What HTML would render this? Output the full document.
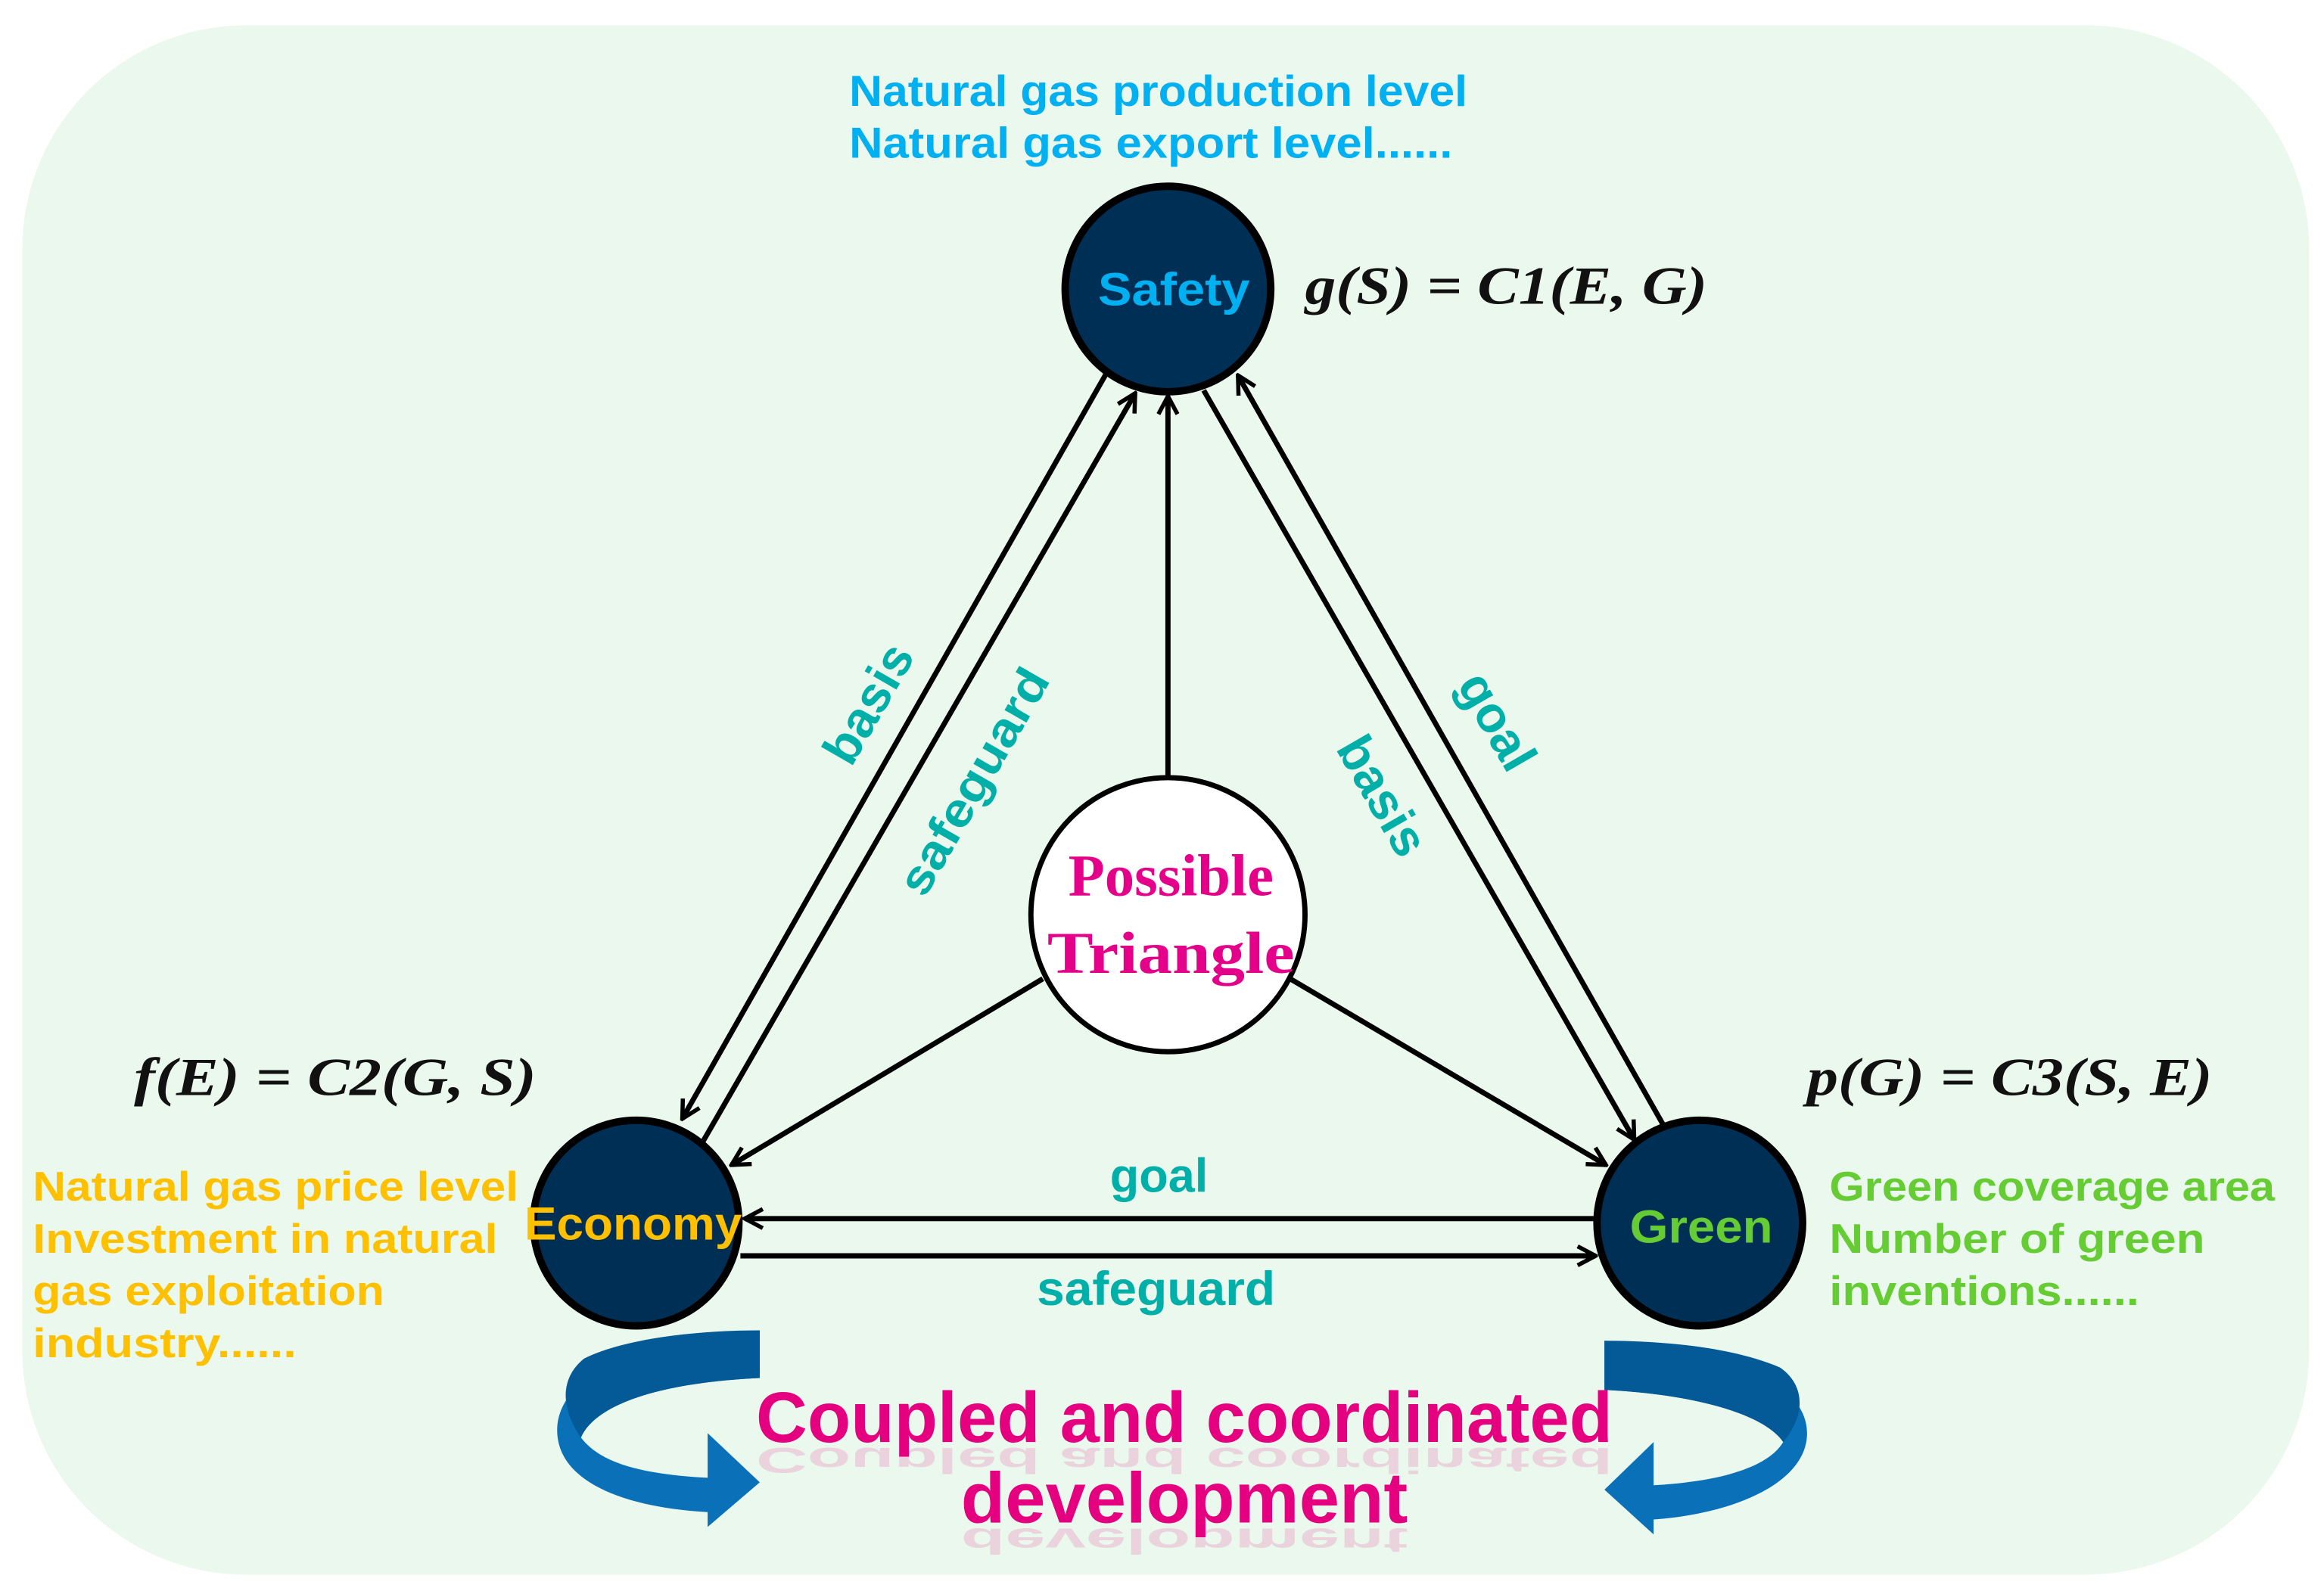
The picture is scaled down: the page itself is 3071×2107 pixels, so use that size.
<!DOCTYPE html>
<html><head><meta charset="utf-8"><style>
html,body{margin:0;padding:0;background:#fff;}
svg{display:block;}
</style></head><body>
<svg width="3071" height="2107" viewBox="0 0 1560 1070" preserveAspectRatio="none" xmlns="http://www.w3.org/2000/svg">
<defs>
<marker id="ah" viewBox="0 0 20 20" refX="18" refY="10" markerWidth="16" markerHeight="16" markerUnits="userSpaceOnUse" orient="auto">
<path d="M3,2 L18,10 L3,18" fill="none" stroke="#000" stroke-width="3.5"/>
</marker>
</defs>
<rect x="15" y="17" width="1535" height="1040" rx="150" ry="150" fill="#ebf8ed"/>

<g font-family="Liberation Sans, sans-serif" font-weight="bold">
<text x="570" y="71" font-size="29" fill="#00b0f0" textLength="415" lengthAdjust="spacingAndGlyphs">Natural gas production level</text>
<text x="570" y="106" font-size="29" fill="#00b0f0" textLength="405" lengthAdjust="spacingAndGlyphs">Natural gas export level......</text>

<text x="22" y="806" font-size="28" fill="#ffc000" textLength="326" lengthAdjust="spacingAndGlyphs">Natural gas price level</text>
<text x="22" y="841" font-size="28" fill="#ffc000" textLength="312" lengthAdjust="spacingAndGlyphs">Investment in natural</text>
<text x="22" y="876" font-size="28" fill="#ffc000" textLength="236" lengthAdjust="spacingAndGlyphs">gas exploitation</text>
<text x="22" y="911" font-size="28" fill="#ffc000" textLength="177" lengthAdjust="spacingAndGlyphs">industry......</text>

<text x="1228" y="806" font-size="28" fill="#66cc33" textLength="299" lengthAdjust="spacingAndGlyphs">Green coverage area</text>
<text x="1228" y="841" font-size="28" fill="#66cc33" textLength="252" lengthAdjust="spacingAndGlyphs">Number of green</text>
<text x="1228" y="876" font-size="28" fill="#66cc33" textLength="208" lengthAdjust="spacingAndGlyphs">inventions......</text>
</g>

<g font-family="Liberation Serif, serif" font-weight="bold" font-style="italic" font-size="36" fill="#111">
<text x="876" y="204" textLength="270" lengthAdjust="spacingAndGlyphs">g(S) = C1(E, G)</text>
<text x="90" y="735" textLength="270" lengthAdjust="spacingAndGlyphs">f(E) = C2(G, S)</text>
<text x="1213" y="735" textLength="272" lengthAdjust="spacingAndGlyphs">p(G) = C3(S, E)</text>
</g>

<g stroke="#000" stroke-width="3.5" fill="none" marker-end="url(#ah)">
<line x1="743" y1="250" x2="458" y2="751"/>
<line x1="472" y1="766" x2="762" y2="264"/>
<line x1="808" y1="262" x2="1097" y2="765"/>
<line x1="1117" y1="756" x2="831" y2="252"/>
<line x1="784" y1="522" x2="784" y2="266"/>
<line x1="700" y1="657" x2="491" y2="782"/>
<line x1="866" y1="657" x2="1078" y2="782"/>
<line x1="1073" y1="818" x2="500" y2="818"/>
<line x1="497" y1="843" x2="1071" y2="843"/>
</g>

<g stroke="#000" stroke-width="5">
<circle cx="784" cy="194" r="69" fill="#002f55"/>
<circle cx="427" cy="821" r="69" fill="#002f55"/>
<circle cx="1141" cy="821" r="69" fill="#002f55"/>
</g>
<circle cx="784" cy="614" r="92" fill="#fff" stroke="#000" stroke-width="3.5"/>

<g font-family="Liberation Sans, sans-serif" font-weight="bold" text-anchor="middle">
<text x="788" y="205" font-size="31" fill="#00b0f0" textLength="102" lengthAdjust="spacingAndGlyphs">Safety</text>
<text x="425" y="832" font-size="31" fill="#ffc000" textLength="146" lengthAdjust="spacingAndGlyphs">Economy</text>
<text x="1142" y="834" font-size="31" fill="#66cc33" textLength="96" lengthAdjust="spacingAndGlyphs">Green</text>
<text x="778" y="800" font-size="32" fill="#00b0a8">goal</text>
<text x="776" y="876" font-size="32" fill="#00b0a8" textLength="160" lengthAdjust="spacingAndGlyphs">safeguard</text>
<text transform="translate(593,478) rotate(-60)" font-size="34" fill="#00b0a8">basis</text>
<text transform="translate(663,530) rotate(-60)" font-size="32" fill="#00b0a8" textLength="170" lengthAdjust="spacingAndGlyphs">safeguard</text>
<text transform="translate(995,490) rotate(60)" font-size="34" fill="#00b0a8">goal</text>
<text transform="translate(918,540) rotate(60)" font-size="34" fill="#00b0a8">basis</text>
</g>
<g font-family="Liberation Serif, serif" font-weight="bold" text-anchor="middle" fill="#e5008a">
<text x="786" y="601" font-size="40">Possible</text>
<text x="786" y="653" font-size="40" textLength="166" lengthAdjust="spacingAndGlyphs">Triangle</text>
</g>

<!-- curved arrows -->
<path d="M510,893 L510,925 C445,928 400,942 390,965 C405,985 440,990 475,992 L475,962 L510,995 L475,1025 L475,1015 C420,1012 374,995 374,960 C374,920 440,895 510,893 Z" fill="#0a70b8"/>
<path d="M510,893 L510,925 C445,928 400,942 390,965 C376,945 376,925 392,912 C420,898 470,893 510,893 Z" fill="#045a96"/>
<path d="M1077,900 L1077,933 C1140,936 1185,950 1197,968 C1185,988 1145,995 1110,997 L1110,968 L1077,1000 L1110,1030 L1110,1020 C1165,1016 1213,995 1213,962 C1213,925 1150,903 1077,900 Z" fill="#0a70b8"/>
<path d="M1077,900 L1077,933 C1140,936 1185,950 1197,968 C1212,950 1212,930 1195,918 C1165,905 1120,900 1077,900 Z" fill="#045a96"/>

<g font-family="Liberation Sans, sans-serif" font-weight="bold" text-anchor="middle">
<text transform="translate(795,972) scale(1,-0.5)" font-size="48" fill="#e5007f" fill-opacity="0.15" textLength="575" lengthAdjust="spacingAndGlyphs">Coupled and coordinated</text>
<text transform="translate(795,1026) scale(1,-0.5)" font-size="48" fill="#e5007f" fill-opacity="0.15" textLength="300" lengthAdjust="spacingAndGlyphs">development</text>
<text x="795" y="968" font-size="48" fill="#e5007f" textLength="575" lengthAdjust="spacingAndGlyphs">Coupled and coordinated</text>
<text x="795" y="1022" font-size="48" fill="#e5007f" textLength="300" lengthAdjust="spacingAndGlyphs">development</text>
</g>
</svg>
</body></html>
